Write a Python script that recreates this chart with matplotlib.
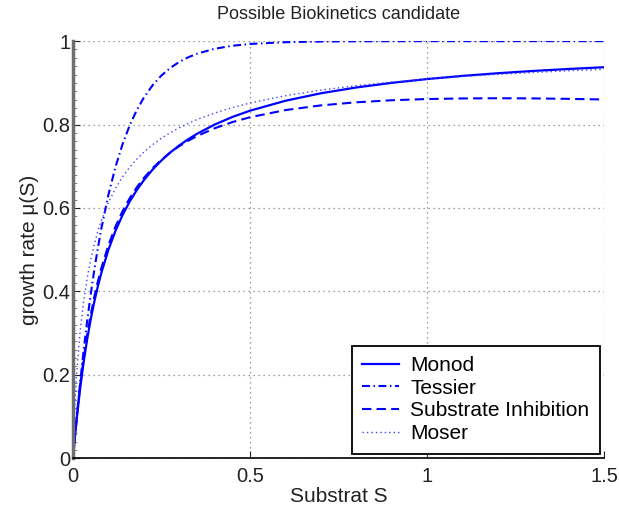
import matplotlib
matplotlib.use('Agg')
import matplotlib.pyplot as plt
from matplotlib.ticker import MultipleLocator

plt.rcParams['font.family'] = ['Liberation Sans', 'DejaVu Sans']

# substrate concentration grid and growth rates of the four kinetic models
S = [0, 0.005, 0.01, 0.02, 0.03, 0.04, 0.05, 0.06, 0.07, 0.08, 0.1, 0.12, 0.14,
     0.16, 0.18, 0.2, 0.225, 0.25, 0.275, 0.3, 0.325, 0.35, 0.4, 0.45, 0.5,
     0.6, 0.7, 0.8, 0.9, 1.0, 1.1, 1.2, 1.3, 1.4, 1.5]

monod = [0, 0.0476, 0.0909, 0.1667, 0.2308, 0.2857, 0.3333, 0.375, 0.4118,
         0.4444, 0.5, 0.5455, 0.5833, 0.6154, 0.6429, 0.6667, 0.6923, 0.7143,
         0.7333, 0.75, 0.7647, 0.7778, 0.8, 0.8182, 0.8333, 0.8571, 0.875,
         0.8889, 0.9, 0.9091, 0.9167, 0.9231, 0.9286, 0.9333, 0.9375]

tessier = [0, 0.0488, 0.0952, 0.1813, 0.2592, 0.3297, 0.3935, 0.4512, 0.5034,
           0.5507, 0.6321, 0.6988, 0.7534, 0.7981, 0.8347, 0.8647, 0.8946,
           0.9179, 0.9361, 0.9502, 0.9612, 0.9698, 0.9817, 0.9889, 0.9933,
           0.9975, 0.9991, 0.9997, 0.9999, 1.0, 1.0, 1.0, 1.0, 1.0, 1.0]

inhibition = [0, 0.05, 0.0952, 0.1739, 0.2399, 0.2961, 0.3444, 0.3865, 0.4234,
              0.456, 0.5111, 0.5557, 0.5925, 0.6233, 0.6495, 0.6719, 0.6958,
              0.716, 0.7333, 0.7482, 0.7611, 0.7724, 0.7911, 0.8059, 0.8176,
              0.8347, 0.846, 0.8534, 0.8583, 0.8612, 0.8626, 0.8631, 0.8627,
              0.8616, 0.8601]

moser = [0, 0.1261, 0.2008, 0.3043, 0.377, 0.4323, 0.4765, 0.513, 0.5438,
         0.57, 0.6131, 0.6471, 0.6747, 0.6977, 0.7172, 0.734, 0.752, 0.7674,
         0.7807, 0.7924, 0.8027, 0.812, 0.8277, 0.8407, 0.8517, 0.8692, 0.8826,
         0.8932, 0.9019, 0.9091, 0.9152, 0.9204, 0.925, 0.929, 0.9326]

fig = plt.figure(figsize=(6.19, 5.08), dpi=100)
ax = fig.add_axes([0.118, 0.098, 0.858, 0.821])

ax.plot(S, monod, color='#0000ff', lw=1.6, label='Monod')
ax.plot(S, tessier, color='#0000ff', lw=1.5, dashes=(3.8, 1.7, 0.7, 1.7), label='Tessier')
ax.plot(S, inhibition, color='#0000ff', lw=1.5, dashes=(4.5, 2.5), label='Substrate Inhibition')
ax.plot(S, moser, color='#4040ff', lw=1.0, dashes=(1, 2.2), label='Moser')

ax.set_xlim(0, 1.5)
ax.set_ylim(0, 1)
ax.set_xticks([0, 0.5, 1, 1.5])
ax.set_xticklabels(['0', '0.5', '1', '1.5'])
ax.set_yticks([0, 0.2, 0.4, 0.6, 0.8, 1])
ax.set_yticklabels(['0', '0.2', '0.4', '0.6', '0.8', '1'])
ax.yaxis.set_minor_locator(MultipleLocator(0.02))

ax.grid(True, color='#808080', linestyle=(0, (1, 3)), linewidth=0.9)
for side in ['top', 'right']:
    ax.spines[side].set_visible(False)
ax.spines['bottom'].set_linewidth(1.2)
ax.spines['left'].set_color('#6e6e6e')
ax.spines['left'].set_linewidth(2.5)

ax.tick_params(axis='x', which='major', direction='in', length=5,
               labelsize=14.5, pad=6, colors='#222222')
ax.tick_params(axis='y', which='major', direction='in', length=5,
               labelsize=14.5, pad=2, colors='#222222')
ax.tick_params(axis='y', which='minor', direction='in', length=3, color='#6e6e6e')

ax.set_title('Possible Biokinetics candidate', fontsize=13, color='#222222', pad=16)
ax.set_xlabel('Substrat S', fontsize=15, color='#222222', labelpad=1)
ax.set_ylabel('growth rate μ(S)', fontsize=15, color='#222222', labelpad=2)

leg = ax.legend(loc='lower right', fontsize=15, fancybox=False, framealpha=1,
                edgecolor='black', handlelength=1.75, handletextpad=0.55,
                labelspacing=0.18, borderaxespad=0.22, borderpad=0.5)
leg.get_frame().set_linewidth(1.3)

fig.savefig('out.png', dpi=100)
